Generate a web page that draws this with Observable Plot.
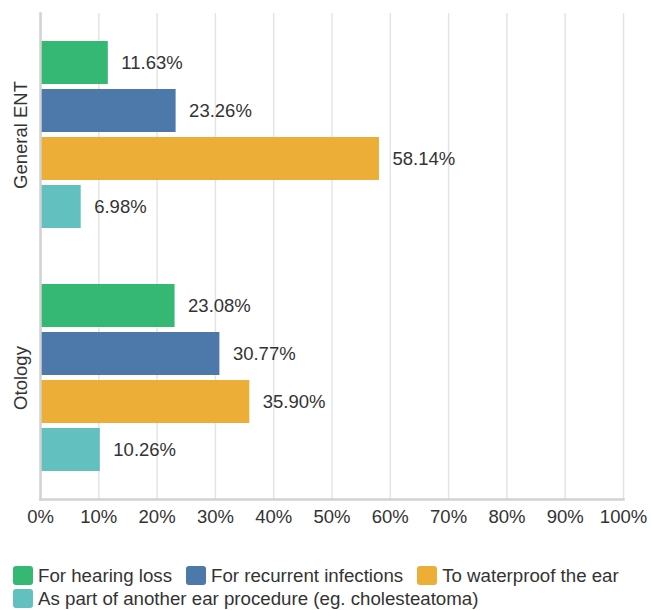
<!DOCTYPE html>
<html>
<head>
<meta charset="utf-8">
<script src="https://cdn.jsdelivr.net/npm/d3@7"></script>
<script src="https://cdn.jsdelivr.net/npm/@observablehq/plot@0.6"></script>
<style>
  html, body { margin: 0; padding: 0; background: #fff; }
  body { font-family: "Liberation Sans", Arial, Helvetica, sans-serif; color: #333; width: 651px; }
  #chart svg { display: block; }
  #legend { display: flex; flex-wrap: wrap; padding: 0 0 0 13px; margin-top: 24px; font-size: 18.7px; line-height: 23px; }
  .item { display: inline-flex; align-items: center; height: 23px; margin-right: 14px; white-space: nowrap; }
  .sw { width: 20px; height: 19px; border-radius: 3px; margin-right: 5px; display: inline-block; flex: none; }
</style>
</head>
<body>
<div id="chart"></div>
<div id="legend"></div>
<script>
const groups = ["General ENT", "Otology"];
const series = [
  "For hearing loss",
  "For recurrent infections",
  "To waterproof the ear",
  "As part of another ear procedure (eg. cholesteatoma)"
];
const generalENT = [11.63, 23.26, 58.14, 6.98];
const otology = [23.08, 30.77, 35.90, 10.26];
const colors = ["#35b874", "#4c78aa", "#ecae37", "#62c0bf"];
const xTicks = [0, 10, 20, 30, 40, 50, 60, 70, 80, 90, 100];

const data = [];
series.forEach((s, i) => data.push({group: groups[0], series: s, value: generalENT[i]}));
series.forEach((s, i) => data.push({group: groups[1], series: s, value: otology[i]}));

const font = '"Liberation Sans", Arial, Helvetica, sans-serif';

const chart = Plot.plot({
  width: 651,
  height: 540,
  marginLeft: 40,
  marginRight: 28,
  marginTop: 13,
  marginBottom: 41,
  style: {fontFamily: font, fontSize: "18.5px", color: "#333", background: "#fff", overflow: "visible"},
  x: {domain: [0, 100], label: null},
  fy: {domain: groups, padding: 0, label: null},
  y: {domain: series, paddingInner: 0.1, paddingOuter: 0.54, axis: null},
  color: {domain: series, range: colors},
  marks: [
    Plot.gridX(xTicks, {stroke: "#e4e4e4", strokeOpacity: 1, strokeWidth: 1.5}),
    Plot.barX(data, {fy: "group", y: "series", x: "value", fill: "series"}),
    Plot.text(data, {
      fy: "group", y: "series", x: "value",
      text: d => d.value.toFixed(2) + "%",
      textAnchor: "start", dx: 13, fill: "#333", fontSize: 18.5
    }),
    Plot.frame({anchor: "left", stroke: "#d2d2d2", strokeWidth: 2.5, facet: "super"}),
    Plot.frame({anchor: "bottom", stroke: "#d2d2d2", strokeWidth: 2.5, facet: "super"}),
    Plot.axisX(xTicks, {tickSize: 0, tickPadding: 10, tickFormat: d => d + "%", fill: "#333", fontSize: 18.5, label: null}),
    Plot.axisFy({anchor: "left", tickRotate: -90, tickSize: 0, tickPadding: 14, fill: "#333", fontSize: 18.5, label: null})
  ]
});
document.getElementById("chart").appendChild(chart);

const legend = document.getElementById("legend");
series.forEach((s, i) => {
  const it = document.createElement("span");
  it.className = "item";
  const sw = document.createElement("span");
  sw.className = "sw";
  sw.style.background = colors[i];
  it.appendChild(sw);
  it.appendChild(document.createTextNode(s));
  legend.appendChild(it);
});
</script>
</body>
</html>
